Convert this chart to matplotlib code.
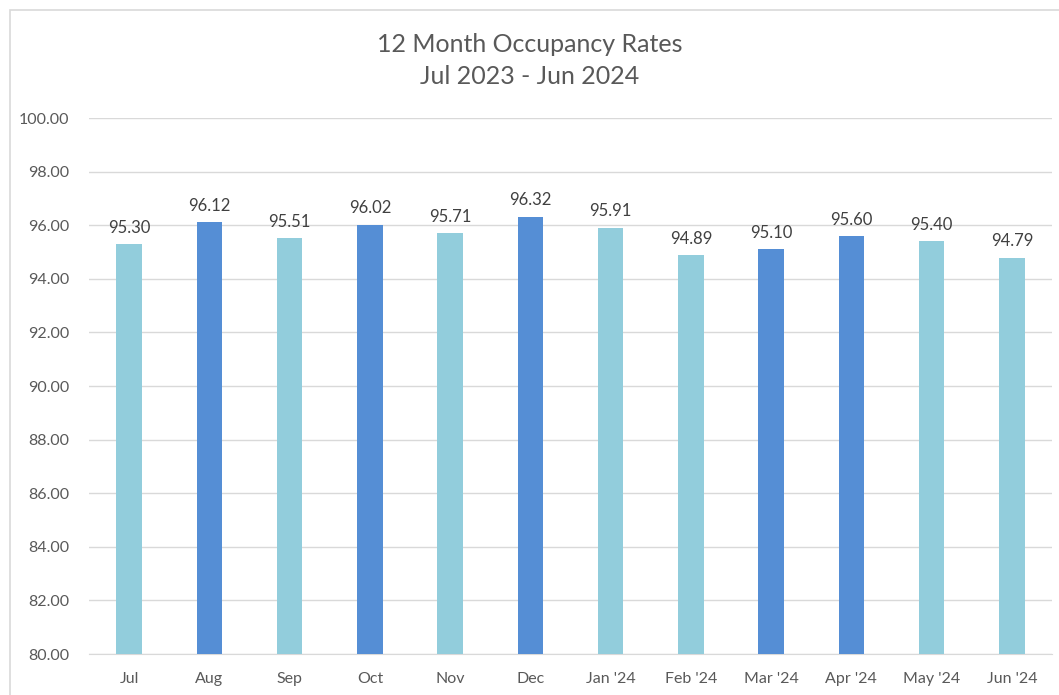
import matplotlib
matplotlib.use("Agg")
import matplotlib.pyplot as plt
from matplotlib.patches import Rectangle

months = ["Jul", "Aug", "Sep", "Oct", "Nov", "Dec", "Jan '24", "Feb '24",
          "Mar '24", "Apr '24", "May '24", "Jun '24"]
rates = [95.30, 96.12, 95.51, 96.02, 95.71, 96.32, 95.91, 94.89,
         95.10, 95.60, 95.40, 94.79]
light, dark = "#92CDDC", "#558ED5"
shade = ["L", "D", "L", "D", "L", "D", "L", "L", "D", "D", "L", "L"]
colors = [light if s == "L" else dark for s in shade]

plt.rcParams['font.family'] = ['Lato', 'DejaVu Sans']
txt = "#595959"

fig = plt.figure(figsize=(10.59, 6.95), dpi=100)
fig.patches.append(Rectangle((10/1059, -0.01), 1.1, 1 - 10/695 + 0.01,
                             transform=fig.transFigure, fill=False,
                             edgecolor="#D9D9D9", linewidth=1.2))
ax = fig.add_axes([89/1059, 1 - 654/695, (1052 - 89)/1059, (654 - 118)/695])

x = range(len(months))
bars = ax.bar(x, rates, width=0.32, color=colors, zorder=3, bottom=0)
ax.set_ylim(80, 100)
ax.set_xlim(-0.5, len(months) - 0.5)
ax.set_yticks([80 + 2 * i for i in range(11)])
ax.set_yticklabels([f"{80 + 2 * i:.2f}" for i in range(11)], color=txt, fontsize=11.5)
ax.set_xticks(list(x))
ax.set_xticklabels(months, color=txt, fontsize=11.5)
ax.tick_params(axis='x', length=0, pad=13)
ax.tick_params(axis='y', length=0, pad=14)
ax.grid(axis='y', color="#D9D9D9", linewidth=1, zorder=0)
for s in ["top", "right", "left"]:
    ax.spines[s].set_visible(False)
ax.spines["bottom"].set_color("#D9D9D9")
for xi, v in zip(x, rates):
    ax.annotate(f"{v:.2f}", (xi, v), xytext=(0, 6), textcoords="offset points",
                ha="center", va="bottom", color="#404040", fontsize=12)

fig.text(0.5, 1 - 44/695, "12 Month Occupancy Rates", ha="center", va="center",
         color=txt, fontsize=18)
fig.text(0.5, 1 - 77/695, "Jul 2023 - Jun 2024", ha="center", va="center",
         color=txt, fontsize=18)

fig.savefig("out.png", dpi=100)
